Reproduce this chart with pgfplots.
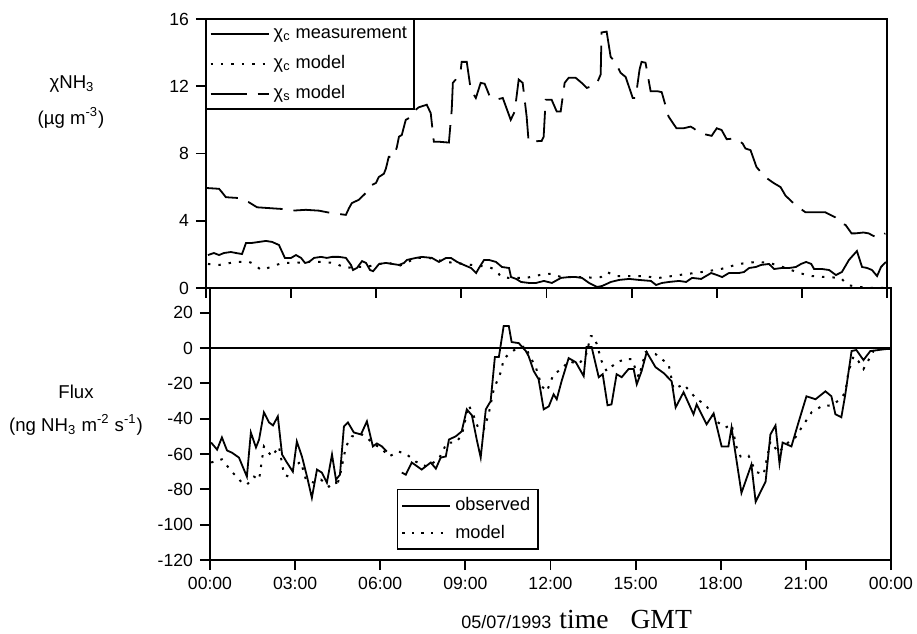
\documentclass[border=0pt]{standalone}
\usepackage{fontspec}
\setmainfont{Liberation Sans}
\newfontfamily\seriffont{Liberation Serif}
\usepackage{pgfplots}
\pgfplotsset{compat=1.18}
\begin{document}
\begin{tikzpicture}
\useasboundingbox (0,0) rectangle (458.5pt,316.5pt);
\pgfplotsset{
  every axis/.append style={
    scale only axis, width=340.5pt,
    xmin=0, xmax=24, xtick={0,3,...,24},
    tick align=outside, major tick length=5pt,
    axis line style={line width=0.9pt},
    every tick/.style={black, line width=0.9pt},
    /pgf/number format/assume math mode=true,
    tick label style={font=\fontsize{8.8}{10}\selectfont},
    xtick pos=bottom, ytick pos=left,
  },
  legend image code/.code={\draw[#1] (0pt,0pt) -- (29pt,0pt);},
}
% ---------------- top panel ----------------
\begin{axis}[
  at={(103pt,172.5pt)}, anchor=south west, height=134.5pt,
  ymin=0, ymax=16, ytick={0,4,8,12,16},
  xticklabels={},
  legend style={at={(0,1)}, anchor=north west, draw=black, line width=0.7pt,
    font=\fontsize{9.1}{10}\selectfont, inner sep=1.5pt, row sep=3.0pt,
    cells={anchor=west}},
]
\addplot[black, line width=0.9pt] coordinates {
(0.07,1.96)(0.28,2.08)(0.46,1.96)(0.63,2.08)(0.88,2.14)(1.06,2.08)(1.27,2.02)(1.41,2.68)
(1.62,2.68)(1.87,2.74)(2.11,2.8)(2.33,2.74)(2.57,2.56)(2.78,1.79)(3.00,1.79)(3.17,1.96)
(3.35,1.79)(3.49,1.49)(3.63,1.55)(3.81,1.79)(4.05,1.85)(4.26,1.79)(4.44,1.85)(4.69,1.85)
(4.93,1.79)(5.11,1.37)(5.18,1.07)(5.32,1.19)(5.50,1.6)(5.64,1.49)(5.78,1.07)(5.89,1.0)
(6.10,1.43)(6.34,1.49)(6.80,1.37)(6.98,1.49)(7.08,1.67)(7.40,1.79)(7.61,1.85)(7.96,1.79)
(8.21,1.55)(8.46,1.79)(8.63,1.79)(8.85,1.55)(9.09,1.37)(9.34,1.19)(9.52,0.89)(9.62,1.19)
(9.80,1.67)(9.97,1.67)(10.22,1.55)(10.43,1.25)(10.68,1.19)(10.75,0.65)(10.93,0.54)(11.10,0.36)
(11.38,0.3)(11.63,0.3)(11.91,0.42)(12.19,0.3)(12.51,0.6)(12.79,0.65)(13.04,0.65)(13.25,0.6)
(13.50,0.3)(13.78,0.06)(13.96,0.12)(14.27,0.36)(14.56,0.48)(14.91,0.54)(15.26,0.48)(15.68,0.42)
(15.86,0.18)(16.07,0.3)(16.32,0.36)(16.67,0.42)(16.92,0.36)(17.13,0.6)(17.45,0.54)(17.62,0.71)
(17.80,0.89)(18.01,0.77)(18.19,0.65)(18.43,0.89)(18.78,0.89)(18.96,0.95)(19.14,1.19)(19.38,1.25)
(19.56,1.37)(19.84,1.43)(20.02,1.13)(20.30,1.19)(20.55,1.19)(20.79,1.25)(20.97,1.43)(21.15,1.55)
(21.33,1.43)(21.43,1.13)(21.71,1.13)(21.96,1.07)(22.20,0.77)(22.41,0.95)(22.66,1.67)(22.94,2.2)
(23.12,1.25)(23.30,1.19)(23.47,1.07)(23.65,0.71)(23.79,1.25)(23.96,1.55)
};
\addlegendentry{χ\textsubscript{c} measurement}
\addplot[black, line width=1pt, dash pattern=on 1.2pt off 4pt] coordinates {
(0.07,1.43)(0.46,1.37)(1.06,1.55)(1.52,1.55)(1.69,1.43)(1.94,1.07)(2.29,1.25)(2.68,1.49)
(3.10,1.49)(3.63,1.55)(4.05,1.55)(4.51,1.49)(4.93,1.19)(5.22,1.25)(5.64,1.25)(6.10,1.43)
(6.45,1.49)(6.80,1.31)(7.05,1.49)(7.40,1.79)(7.86,1.79)(8.46,1.55)(9.37,1.37)(9.97,1.25)
(10.22,1.07)(10.40,0.65)(10.68,0.6)(11.28,0.6)(11.84,0.8)(12.19,0.85)(12.51,0.65)(13.04,0.65)
(13.60,0.62)(13.92,0.65)(14.13,0.95)(14.45,0.71)(14.91,0.71)(15.37,0.71)(15.96,0.6)(16.67,0.77)
(17.48,0.95)(18.15,1.13)(18.78,1.43)(19.38,1.55)(19.84,1.5)(20.44,1.19)(20.90,0.89)(21.36,0.71)
(21.85,0.65)(22.38,0.6)(22.59,0.18)(23.01,0.06)(23.47,0.0)(23.96,0.0)
};
\addlegendentry{χ\textsubscript{c} model}
\addplot[black, line width=0.9pt, dash pattern=on 18pt off 5.5pt] coordinates {
(0.0,5.95)(0.46,5.9)(0.56,5.7)(0.70,5.4)(1.16,5.35)(1.51,5.1)(1.80,4.8)(2.68,4.7)
(3.03,4.6)(3.52,4.65)(3.98,4.6)(4.44,4.45)(4.93,4.35)(5.04,4.75)(5.14,5.05)(5.39,5.25)
(5.63,5.65)(5.81,6.1)(5.99,6.25)(6.09,6.6)(6.27,6.8)(6.34,7.1)(6.44,7.8)(6.62,7.8)
(6.73,8.4)(6.80,9.0)(6.90,9.1)(7.04,10.0)(7.25,10.2)(7.39,10.6)(7.50,10.75)(7.78,10.9)
(7.92,10.4)(8.03,8.7)(8.20,8.7)(8.56,8.65)(8.66,10.6)(8.70,12.2)(8.80,12.4)(8.98,13.0)
(9.01,13.45)(9.19,13.45)(9.33,11.8)(9.51,11.3)(9.68,12.2)(9.82,12.15)(10.0,11.4)(10.21,11.2)
(10.46,11.3)(10.74,10.0)(10.88,10.5)(11.02,12.4)(11.16,12.2)(11.30,10.2)(11.37,8.7)(11.83,8.75)
(11.90,9.0)(11.97,11.2)(12.18,11.2)(12.36,10.5)(12.50,10.5)(12.64,12.2)(12.78,12.5)(13.03,12.5)
(13.24,12.2)(13.42,11.9)(13.59,12.0)(13.77,12.15)(13.91,12.7)(13.94,15.2)(14.12,15.25)(14.26,13.75)
(14.44,13.4)(14.61,12.8)(14.79,12.55)(14.93,11.85)(15.04,11.3)(15.14,11.3)(15.28,13.0)(15.35,13.45)
(15.49,13.4)(15.67,11.7)(15.92,11.7)(16.06,11.65)(16.27,10.4)(16.30,10.2)(16.58,9.5)(16.83,9.5)
(17.08,9.6)(17.18,9.5)(17.43,9.2)(17.82,9.05)(18.0,9.5)(18.17,9.4)(18.35,8.85)(18.66,8.9)
(18.91,8.6)(19.01,8.3)(19.19,8.2)(19.40,7.2)(19.65,6.7)(19.79,6.5)(20.0,6.25)(20.25,6.0)
(20.42,5.5)(20.70,5.05)(20.88,4.8)(21.13,4.5)(21.83,4.5)(22.18,4.2)(22.36,3.85)(22.54,3.75)
(22.75,3.25)(22.89,3.25)(23.17,3.3)(23.35,3.25)(23.52,3.1)(23.70,3.0)(23.94,3.25)
};
\addlegendentry{χ\textsubscript{s} model}
\end{axis}
% ---------------- bottom panel ----------------
\begin{axis}[
  at={(105pt,36.5pt)}, anchor=south west, height=136pt,
  ymin=-120, ymax=34, ytick={-120,-100,...,20},
  xticklabels={00:00,03:00,06:00,09:00,12:00,15:00,18:00,21:00,00:00},
  extra y ticks={0}, extra y tick labels={},
  extra y tick style={grid=major, major grid style={black, line width=0.6pt}},
  unbounded coords=jump,
  legend style={at={(0.274,0.261)}, anchor=north west, draw=black, line width=0.7pt,
    font=\fontsize{9.1}{10}\selectfont, inner sep=2pt, row sep=1.5pt,
    cells={anchor=west}},
  legend image code/.code={\draw[#1] (0pt,0pt) -- (24pt,0pt);},
]
\addplot[black, line width=0.9pt] coordinates {
(0.04,-53.5)(0.25,-57.5)(0.42,-50.6)(0.60,-58)(0.77,-59.2)(1.02,-62)(1.30,-72.8)(1.44,-47.8)
(1.62,-56.3)(1.73,-51.8)(1.90,-36.4)(2.08,-42.1)(2.22,-43.8)(2.39,-38.7)(2.54,-60.3)(2.71,-64.8)
(2.92,-70)(3.06,-52.9)(3.24,-61.4)(3.42,-72.8)(3.59,-84.8)(3.77,-68.8)(3.94,-70.5)(4.12,-76.2)
(4.30,-60.3)(4.44,-74.5)(4.58,-71.7)(4.72,-44.4)(4.86,-42.1)(5.07,-47.8)(5.32,-48.9)(5.53,-41.5)
(5.74,-55.7)(5.88,-54)(6.06,-55.7)(6.23,-58.6)(6.5,nan)
(6.76,-70.5)(6.90,-71.7)(7.11,-64.8)(7.46,-68.8)(7.78,-64.8)(7.96,-68.3)(8.13,-62)(8.31,-61.4)
(8.42,-51.8)(8.66,-50)(8.87,-47.2)(9.05,-34.7)(9.23,-38.1)(9.40,-51.8)(9.54,-62)(9.72,-34.7)
(9.89,-30.1)(10.04,-5.1)(10.18,-5.1)(10.35,12.5)(10.53,12.5)(10.63,3.4)(10.88,2.8)(11.13,-1.7)
(11.23,-4.6)(11.41,-13.1)(11.58,-17.6)(11.76,-34.7)(11.94,-33)(12.11,-26.2)(12.22,-29)(12.39,-18.8)
(12.64,-5.7)(12.89,-8)(13.17,-15.9)(13.27,0.6)(13.45,0.6)(13.70,-16.5)(13.84,-14.8)(14.01,-32.4)
(14.15,-31.9)(14.33,-14.8)(14.51,-16.5)(14.75,-11.9)(14.93,-11.9)(15.04,-20.5)(15.21,-13.1)(15.39,-2.3)
(15.70,-10.8)(15.99,-14.2)(16.27,-18.8)(16.41,-33.6)(16.69,-25)(17.04,-37.5)(17.15,-31.9)(17.50,-43.2)
(17.75,-37)(18.03,-55.7)(18.27,-55.7)(18.38,-45)(18.73,-82)(19.08,-66)(19.23,-87)(19.58,-75.7)
(19.75,-48.9)(19.93,-43.8)(20.07,-65.4)(20.18,-53.5)(20.49,-55.7)(20.74,-42.1)(21.02,-27.3)(21.34,-29)
(21.69,-24.5)(21.90,-27.3)(22.04,-37.5)(22.25,-39.2)(22.39,-26.2)(22.61,-1.7)(22.78,-1.1)(23.03,-6.8)
(23.27,-1.7)(23.56,-1.1)(23.80,-0.6)(24.0,-0.5)
};
\addlegendentry{observed}
\addplot[black, line width=1pt, dash pattern=on 1.2pt off 3.6pt] coordinates {
(0.04,-64.8)(0.42,-63)(0.77,-70)(1.13,-76.2)(1.30,-77.4)(1.55,-72.8)(1.73,-74.5)(1.90,-55.7)
(2.18,-61.4)(2.43,-55.7)(2.61,-71.7)(2.78,-72.8)(2.96,-67.1)(3.20,-64.3)(3.38,-74.5)(3.66,-76.2)
(3.91,-74.5)(4.19,-78.5)(4.44,-75.7)(4.47,-78.5)(4.61,-70)(4.79,-55.7)(5.00,-50)(5.35,-48.9)
(5.53,-50.6)(5.77,-54.6)(6.02,-56.3)(6.30,-61.4)(6.65,-58.6)(6.94,-60.3)(7.25,-64.3)(7.64,-67.1)
(8.06,-63)(8.35,-53.5)(8.66,-53.5)(8.87,-49.5)(9.12,-32.4)(9.30,-38.7)(9.47,-46)(9.65,-46)
(9.82,-37.5)(10.0,-23.3)(10.25,-13.6)(10.35,-6.3)(10.53,-3.4)(10.77,-0.6)(11.13,1.1)(11.23,-3.4)
(11.48,-10.8)(11.69,-21.6)(11.87,-24.5)(12.11,-14.8)(12.39,-11.9)(12.64,-7.4)(12.99,-9.1)(13.24,-4.6)
(13.42,6.8)(13.52,6.8)(13.63,2.3)(13.80,-7.4)(13.98,-13.1)(14.33,-8)(14.65,-6.3)(14.86,-6.3)
(15.11,-16.5)(15.35,-2.3)(15.70,-3.4)(15.92,-6.3)(16.16,-9.1)(16.34,-23.3)(16.69,-20.5)(16.94,-25)
(17.15,-29)(17.46,-31.9)(17.85,-41.5)(18.17,-45)(18.38,-43.2)(18.56,-56.3)(18.70,-61.4)(18.98,-60.9)
(19.23,-70)(19.51,-71.7)(19.75,-52.9)(20.04,-59.2)(20.28,-54.6)(20.63,-50.6)(20.85,-45)(21.20,-36.4)
(21.55,-33)(21.90,-32.4)(22.22,-29)(22.39,-25)(22.50,-13.6)(22.68,-4.6)(22.85,-7.4)(23.03,-11.9)
(23.13,-9.1)(23.38,-1.7)(23.66,-0.6)
};
\addlegendentry{model}
\end{axis}
% ---------------- labels ----------------
\node[font=\fontsize{9.3}{10}\selectfont] at (36pt,274.5pt) {χNH\textsubscript{3}};
\node[font=\fontsize{9.3}{10}\selectfont] at (35.5pt,257.5pt) {(µg m\textsuperscript{-3})};
\node[font=\fontsize{9.3}{10}\selectfont] at (38pt,120.5pt) {Flux};
\node[font=\fontsize{9.3}{10}\selectfont] at (38pt,104pt) {(ng NH\textsubscript{3} m\textsuperscript{-2} s\textsuperscript{-1})};
\node[anchor=base west, inner sep=0pt, font=\fontsize{9}{10}\selectfont] at (230.5pt,2pt)
  {05/07/1993\hspace{4pt}{\seriffont\fontsize{13.8}{15}\selectfont time\hspace{11pt}GMT}};
\end{tikzpicture}
\end{document}
